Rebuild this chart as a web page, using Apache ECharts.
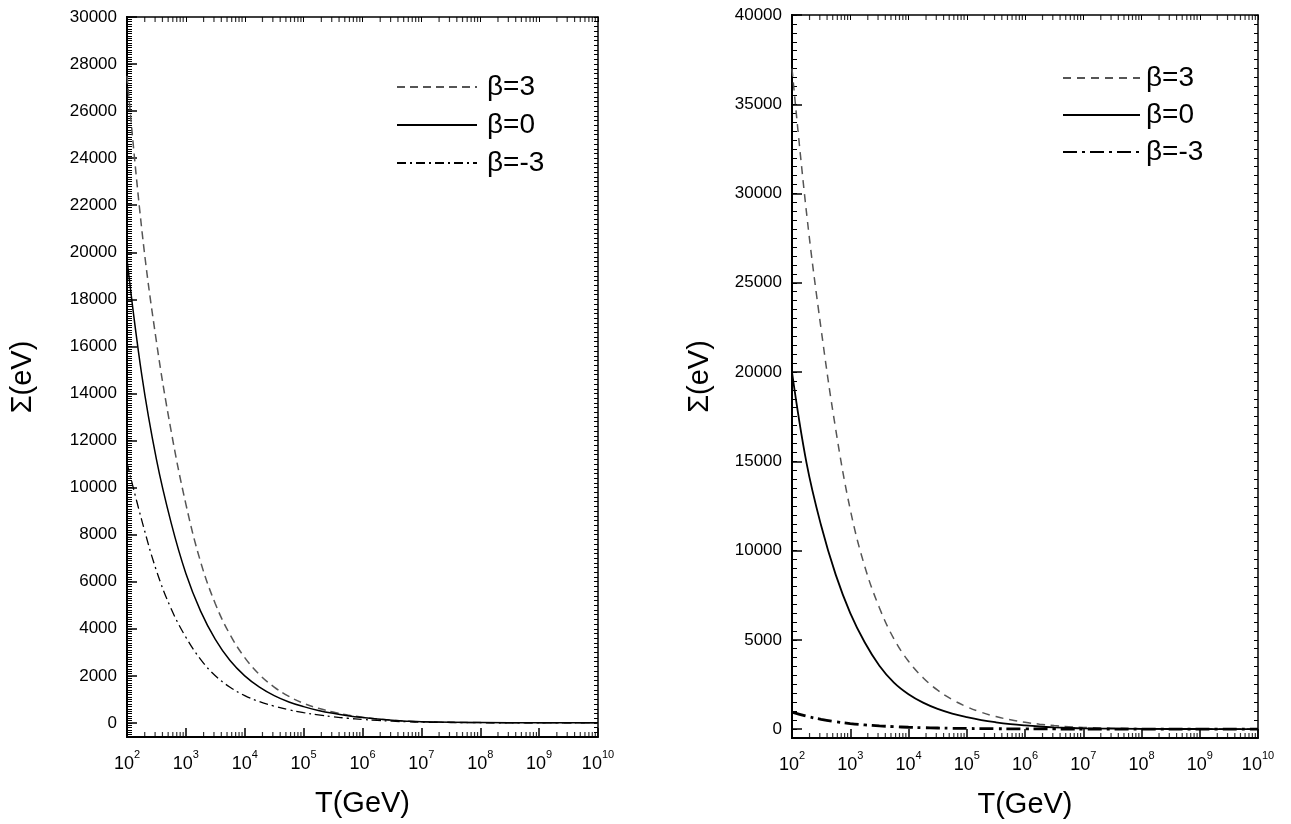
<!DOCTYPE html>
<html>
<head>
<meta charset="utf-8">
<script src="https://cdn.jsdelivr.net/npm/echarts@6/dist/echarts.min.js"></script>
<style>
html,body{margin:0;padding:0;background:#fff;}
#c{width:1291px;height:824px;}
</style>
</head>
<body>
<div id="c"></div>
<script>
// log10(T) sample positions
const logT = [2, 2.25, 2.5, 2.75, 3, 3.25, 3.5, 3.75, 4, 4.25, 4.5, 4.75, 5, 5.25, 5.5, 5.75, 6, 6.25, 6.5, 6.75, 7, 8, 9, 10];

// Left panel values of Sigma (eV)
const leftBetaP3 = [27500, 21000, 16200, 12400, 9300, 6845, 5065, 3750, 2775, 2050, 1520, 1125, 830, 620, 460, 335, 240, 165, 110, 70, 45, 12, 3, 1];
const leftBeta0  = [19700, 14800, 11200, 8500, 6350, 4750, 3550, 2650, 2000, 1520, 1160, 890, 690, 530, 405, 305, 225, 160, 110, 72, 45, 12, 3, 1];
const leftBetaM3 = [11050, 8620, 6470, 4850, 3640, 2700, 2000, 1515, 1160, 900, 710, 555, 435, 340, 262, 196, 145, 104, 72, 48, 30, 8, 2, 1];

// Right panel values of Sigma (eV)
const rightBetaP3 = [37000, 28900, 22400, 16800, 12300, 9100, 6800, 5050, 3800, 2880, 2180, 1650, 1250, 940, 700, 520, 380, 275, 195, 135, 92, 25, 7, 2];
const rightBeta0  = [20000, 14900, 11400, 8650, 6500, 4850, 3550, 2600, 1950, 1480, 1130, 870, 670, 505, 380, 280, 205, 145, 100, 65, 42, 11, 3, 1];
const rightBetaM3 = [950, 720, 545, 410, 310, 235, 178, 135, 102, 78, 59, 45, 34, 26, 20, 15, 11, 8, 6, 4.5, 3.3, 1, 0.3, 0.1];

const legendNamesLeft  = ['β=3', 'β=0', 'β=-3'];
const legendNamesRight = ['β=3 ', 'β=0 ', 'β=-3 '];

// axis settings
const xMin = 100, xMax = 1e10;
const leftYMin = -600, leftYMax = 30000, leftMinorStep = 100;
const rightYMin = -500, rightYMax = 40000, rightMinorStep = 500;
const decades = [2, 3, 4, 5, 6, 7, 8, 9];
const minorMultipliers = [2, 3, 4, 5, 6, 7, 8, 9];

const FONT = '"Liberation Sans", Arial, sans-serif';

function pts(vals) { return logT.map((e, i) => [Math.pow(10, e), vals[i]]); }
function minorTickPoints(y) {
  const out = [];
  decades.forEach(d => minorMultipliers.forEach(k => out.push([k * Math.pow(10, d), y])));
  return out;
}

const supLabel = {
  margin: 12,
  color: '#000',
  fontFamily: FONT,
  formatter: function (v) {
    const e = Math.round(Math.log10(v));
    return '{b|10}{s|' + e + '}';
  },
  rich: {
    b: { fontSize: 18, lineHeight: 24, verticalAlign: 'bottom', fontFamily: FONT, color: '#000' },
    s: { fontSize: 11, lineHeight: 11, verticalAlign: 'top', fontFamily: FONT, color: '#000' }
  }
};

function bottomX(grid) {
  return {
    type: 'log', logBase: 10, gridIndex: grid, min: xMin, max: xMax, position: 'bottom',
    axisLine: { show: true, onZero: false, lineStyle: { color: '#000', width: 2 } },
    axisTick: { show: true, inside: true, length: 9, lineStyle: { color: '#000', width: 1.5 } },
    minorTick: { show: false },
    splitLine: { show: false },
    axisLabel: supLabel,
    name: 'T(GeV)', nameLocation: 'middle', nameGap: 52,
    nameTextStyle: { fontSize: 29, color: '#000', fontFamily: FONT }
  };
}
function topX(grid) {
  return {
    type: 'log', logBase: 10, gridIndex: grid, min: xMin, max: xMax, position: 'top',
    axisLine: { show: true, onZero: false, lineStyle: { color: '#000', width: 1.5 } },
    axisTick: { show: true, inside: true, length: 5, lineStyle: { color: '#000' } },
    axisLabel: { show: false }, splitLine: { show: false }
  };
}
function minorY(grid, min, max, step, pos, len) {
  return {
    type: 'value', gridIndex: grid, min: min, max: max, interval: step, position: pos,
    axisLine: { show: true, onZero: false, lineStyle: { color: '#000', width: pos === 'left' ? 2 : 1.5 } },
    axisTick: { show: true, inside: true, length: len, lineStyle: { color: '#000', width: 1 } },
    axisLabel: { show: false }, splitLine: { show: false }
  };
}
function majorY(grid, min, max, split, gap) {
  return {
    type: 'value', gridIndex: grid, min: min, max: max, splitNumber: split, position: 'left',
    axisLine: { show: true, onZero: false, lineStyle: { color: '#000', width: 2 } },
    axisTick: { show: true, inside: true, length: 10, lineStyle: { color: '#000', width: 1.5 } },
    axisLabel: {
      show: true, margin: 10, fontSize: 17, color: '#000', fontFamily: FONT,
      formatter: function (v) { return v < 0 ? '' : String(v); }
    },
    splitLine: { show: false },
    name: 'Σ(eV)', nameLocation: 'middle', nameGap: gap,
    nameTextStyle: { fontSize: 29, color: '#000', fontFamily: FONT }
  };
}
function line(name, vals, xi, yi, color, width, type) {
  return {
    name: name, type: 'line', xAxisIndex: xi, yAxisIndex: yi, data: pts(vals),
    symbol: 'none', showSymbol: false, smooth: 0.4,
    lineStyle: { color: color, width: width, type: type },
    itemStyle: { color: color }, z: 3, silent: true
  };
}
function tickSeries(xi, yi, y, off) {
  return {
    type: 'scatter', xAxisIndex: xi, yAxisIndex: yi, data: minorTickPoints(y),
    symbol: 'rect', symbolSize: [1.2, 5], symbolOffset: [0, off],
    itemStyle: { color: '#000' }, clip: false, silent: true, z: 4
  };
}

const option = {
  animation: false,
  backgroundColor: '#fff',
  textStyle: { fontFamily: FONT },
  grid: [
    { left: 127, top: 17, width: 471, height: 720 },
    { left: 792, top: 15, width: 466, height: 723 }
  ],
  xAxis: [bottomX(0), topX(0), bottomX(1), topX(1)],
  yAxis: [
    minorY(0, leftYMin, leftYMax, leftMinorStep, 'left', 5),
    majorY(0, leftYMin, leftYMax, 15, 90),
    minorY(0, leftYMin, leftYMax, leftMinorStep * 2, 'right', 4),
    minorY(1, rightYMin, rightYMax, rightMinorStep, 'left', 5),
    majorY(1, rightYMin, rightYMax, 8, 78),
    minorY(1, rightYMin, rightYMax, rightMinorStep, 'right', 4)
  ],
  legend: [
    {
      data: legendNamesLeft, orient: 'vertical', left: 391, top: 68,
      itemWidth: 80, itemHeight: 14, itemGap: 10,
      itemStyle: { opacity: 0 },
      textStyle: { fontSize: 28, color: '#000', fontFamily: FONT, padding: [0, 0, 0, 5] },
      selectedMode: false
    },
    {
      data: legendNamesRight, orient: 'vertical', left: 1057, top: 59,
      itemWidth: 77, itemHeight: 14, itemGap: 9,
      itemStyle: { opacity: 0 },
      textStyle: { fontSize: 28, color: '#000', fontFamily: FONT, padding: [0, 0, 0, 1] },
      selectedMode: false
    }
  ],
  series: [
    line(legendNamesLeft[0], leftBetaP3, 0, 0, '#555', 1.5, [8, 5]),
    line(legendNamesLeft[1], leftBeta0, 0, 0, '#000', 1.5, 'solid'),
    line(legendNamesLeft[2], leftBetaM3, 0, 0, '#000', 1.3, [9, 4, 2, 4]),
    line(legendNamesRight[0], rightBetaP3, 2, 3, '#555', 1.5, [8, 6]),
    line(legendNamesRight[1], rightBeta0, 2, 3, '#000', 1.8, 'solid'),
    line(legendNamesRight[2], rightBetaM3, 2, 3, '#000', 2.8, [14, 5, 3, 5]),
    tickSeries(0, 0, leftYMin, -2.5),
    tickSeries(1, 0, leftYMax, 2.5),
    tickSeries(2, 3, rightYMin, -2.5),
    tickSeries(3, 3, rightYMax, 2.5)
  ]
};

const chart = echarts.init(document.getElementById('c'), null, { renderer: 'canvas' });
chart.setOption(option);
</script>
</body>
</html>
